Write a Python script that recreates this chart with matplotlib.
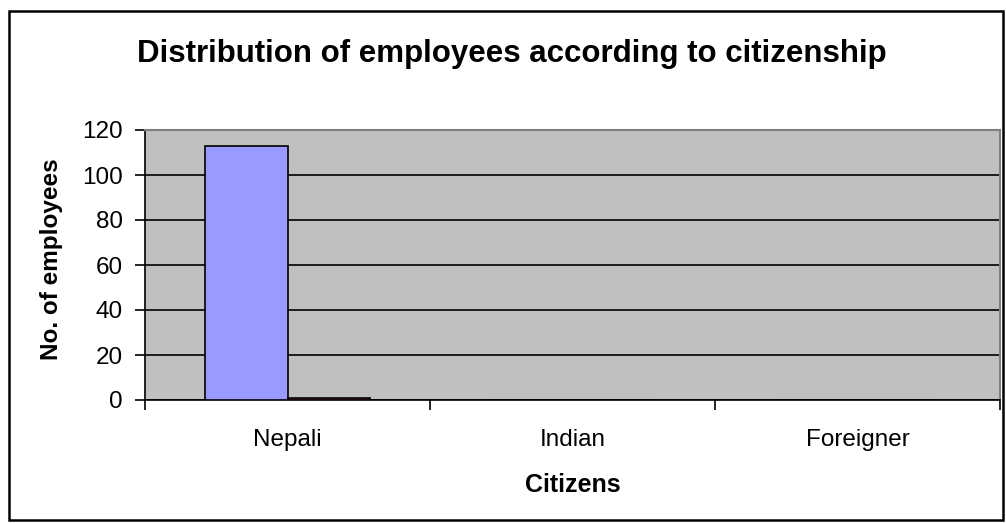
import matplotlib
matplotlib.use("Agg")
import matplotlib.pyplot as plt
from matplotlib.patches import Rectangle

# chart data
categories = ["Nepali", "Indian", "Foreigner"]
series1 = [113, 0, 0]
series2 = [1, 0, 0]
yticks = [0, 20, 40, 60, 80, 100, 120]

plt.rcParams['font.family'] = ['Liberation Sans', 'DejaVu Sans']

fig = plt.figure(figsize=(10.06, 5.23), dpi=100)
ax = fig.add_axes([145/1006, 123/523, 855/1006, 270/523])
ax.set_facecolor('#C0C0C0')

w = 0.29
x = list(range(len(categories)))
ax.bar([i - w/2 for i in x], series1, width=w, color='#9999FF', edgecolor='black', linewidth=1.2, zorder=3)
ax.bar([i + w/2 for i in x], series2, width=w, color='#993366', edgecolor='black', linewidth=1.2, zorder=3)

ax.set_xlim(-0.5, 2.5)
ax.set_ylim(0, 120)
ax.set_yticks(yticks)
ax.yaxis.grid(True, color='black', linewidth=1.2, zorder=1)
ax.set_axisbelow(True)

# category boundary ticks, labels in between
ax.set_xticks([-0.5, 0.5, 1.5, 2.5])
ax.set_xticklabels([])
ax.set_xticks(x, minor=True)
ax.set_xticklabels(categories, minor=True, fontsize=17.5)
ax.tick_params(axis='x', which='minor', length=0, pad=21)
ax.tick_params(axis='x', which='major', length=7.5, width=1.2, direction='out')
ax.tick_params(axis='y', length=7.5, width=1.2, direction='out', labelsize=17.5, pad=8.5)

for s in ['top', 'right']:
    ax.spines[s].set_color('#808080')
    ax.spines[s].set_linewidth(1.5)
for s in ['left', 'bottom']:
    ax.spines[s].set_color('black')
    ax.spines[s].set_linewidth(1.2)

ax.set_ylabel('No. of employees', fontsize=17.5, fontweight='bold')
ax.yaxis.set_label_coords(-0.109, 0.52)
ax.yaxis.label.set_va('center')
ax.set_xlabel('Citizens', fontsize=18, fontweight='bold')
ax.xaxis.set_label_coords(0.5, -0.315)
ax.xaxis.label.set_va('center')

fig.text(512/1006, 1 - 62/523, 'Distribution of employees according to citizenship',
         ha='center', va='baseline', fontsize=22.5, fontweight='bold')

fig.patches.append(Rectangle((9/1006, 3/523), 994/1006, 509/523, transform=fig.transFigure,
                             fill=False, edgecolor='black', linewidth=1.8))

fig.savefig('out.png', dpi=100)
